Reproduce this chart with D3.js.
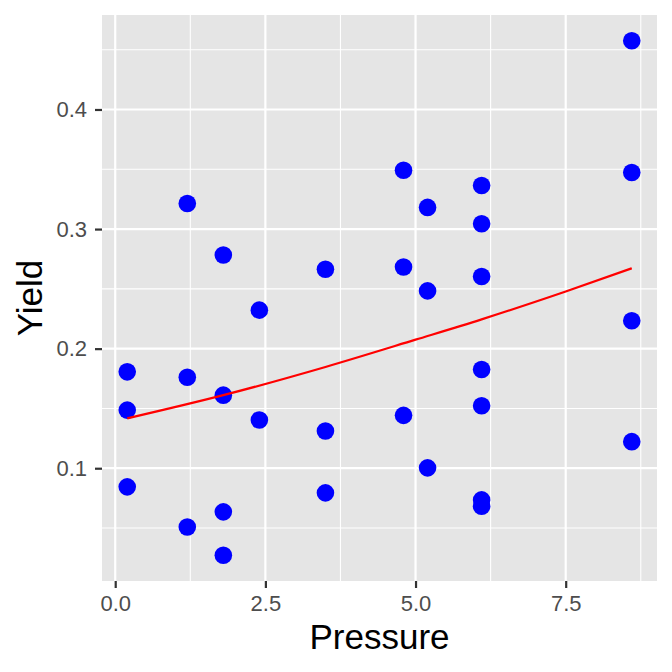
<!DOCTYPE html>
<html>
<head>
<meta charset="utf-8">
<script src="https://cdn.jsdelivr.net/npm/d3@7"></script>
<style>
  body { margin: 0; background: #fff; }
  svg text { font-family: "Liberation Sans", Arial, Helvetica, sans-serif; }
</style>
</head>
<body>
<div id="chart"></div>
<script>
// points
var pressure = [0.2, 0.2, 0.2, 1.2, 1.2, 1.2, 1.8, 1.8, 1.8, 1.8, 2.4, 2.4,
                3.5, 3.5, 3.5, 4.8, 4.8, 4.8, 5.2, 5.2, 5.2,
                6.1, 6.1, 6.1, 6.1, 6.1, 6.1, 6.1, 8.6, 8.6, 8.6, 8.6];
var yieldVals = [0.1806, 0.1486, 0.0844, 0.3214, 0.1761, 0.0508, 0.2783, 0.1611, 0.0635, 0.0272, 0.2322, 0.1403,
                 0.2664, 0.1311, 0.0794, 0.3492, 0.2683, 0.1442, 0.3181, 0.2483, 0.1003,
                 0.3364, 0.3044, 0.2603, 0.1825, 0.1522, 0.0735, 0.0682, 0.4575, 0.3473, 0.2233, 0.1222];

// fitted curve, read at a few pressures
var fitX = [0.2, 1.8, 3.5, 5.0, 6.1, 7.5, 8.6];
var fitY = [0.1417, 0.1611, 0.1847, 0.2075, 0.2245, 0.2478, 0.2672];

var xTicks = [0, 2.5, 5, 7.5];
var xMinor = [1.25, 3.75, 6.25, 8.75];
var yTicks = [0.1, 0.2, 0.3, 0.4];
var yMinor = [0.05, 0.15, 0.25, 0.35, 0.45];

var W = 672, H = 672;
var panel = { left: 102, top: 15, right: 657, bottom: 581 };

var svg = d3.select("#chart").append("svg")
    .attr("width", W)
    .attr("height", H);

// ggplot style 5% expansion
var xExt = d3.extent(pressure), yExt = d3.extent(yieldVals);
var xPad = (xExt[1] - xExt[0]) * 0.05, yPad = (yExt[1] - yExt[0]) * 0.05;

var x = d3.scaleLinear()
    .domain([xExt[0] - xPad, xExt[1] + xPad])
    .range([panel.left, panel.right]);
var y = d3.scaleLinear()
    .domain([yExt[0] - yPad, yExt[1] + yPad])
    .range([panel.bottom, panel.top]);

svg.append("rect")
    .attr("x", panel.left)
    .attr("y", panel.top)
    .attr("width", panel.right - panel.left)
    .attr("height", panel.bottom - panel.top)
    .attr("fill", "#E5E5E5");

var grid = svg.append("g").attr("stroke", "#fff");

grid.selectAll(".vminor").data(xMinor).enter().append("line")
    .attr("x1", function(d){ return x(d); })
    .attr("x2", function(d){ return x(d); })
    .attr("y1", panel.top).attr("y2", panel.bottom)
    .attr("stroke-width", 1.1);
grid.selectAll(".hminor").data(yMinor).enter().append("line")
    .attr("y1", function(d){ return y(d); })
    .attr("y2", function(d){ return y(d); })
    .attr("x1", panel.left).attr("x2", panel.right)
    .attr("stroke-width", 1.1);
grid.selectAll(".vmajor").data(xTicks).enter().append("line")
    .attr("x1", function(d){ return x(d); })
    .attr("x2", function(d){ return x(d); })
    .attr("y1", panel.top).attr("y2", panel.bottom)
    .attr("stroke-width", 2.2);
grid.selectAll(".hmajor").data(yTicks).enter().append("line")
    .attr("y1", function(d){ return y(d); })
    .attr("y2", function(d){ return y(d); })
    .attr("x1", panel.left).attr("x2", panel.right)
    .attr("stroke-width", 2.2);

// points
svg.append("g").selectAll("circle")
    .data(pressure)
    .enter().append("circle")
    .attr("cx", function(d){ return x(d); })
    .attr("cy", function(d, i){ return y(yieldVals[i]); })
    .attr("r", 8.8)
    .attr("fill", "#0000FF");

// fitted line
var fit = fitX.map(function(d, i){ return [d, fitY[i]]; });
svg.append("path")
    .datum(fit)
    .attr("fill", "none")
    .attr("stroke", "#FF0000")
    .attr("stroke-width", 2.2)
    .attr("d", d3.line()
        .x(function(d){ return x(d[0]); })
        .y(function(d){ return y(d[1]); })
        .curve(d3.curveMonotoneX));

// axes
var xAxis = svg.append("g")
    .attr("transform", "translate(0," + panel.bottom + ")")
    .call(d3.axisBottom(x).tickValues(xTicks).tickFormat(d3.format(".1f")).tickSize(7).tickPadding(7));
var yAxis = svg.append("g")
    .attr("transform", "translate(" + panel.left + ",0)")
    .call(d3.axisLeft(y).tickValues(yTicks).tickFormat(d3.format(".1f")).tickSize(7).tickPadding(8));

[xAxis, yAxis].forEach(function(a){
    a.select(".domain").remove();
    a.selectAll(".tick line").attr("stroke", "#333333").attr("stroke-width", 2.2);
    a.selectAll(".tick text")
        .attr("fill", "#4D4D4D")
        .attr("font-size", 22);
});

svg.append("text")
    .text("Pressure")
    .attr("x", (panel.left + panel.right) / 2)
    .attr("y", 649)
    .attr("text-anchor", "middle")
    .attr("font-size", 35)
    .attr("fill", "#000");

svg.append("text")
    .text("Yield")
    .attr("transform", "translate(41.5," + ((panel.top + panel.bottom) / 2) + ") rotate(-90)")
    .attr("text-anchor", "middle")
    .attr("font-size", 35)
    .attr("fill", "#000");
</script>
</body>
</html>
